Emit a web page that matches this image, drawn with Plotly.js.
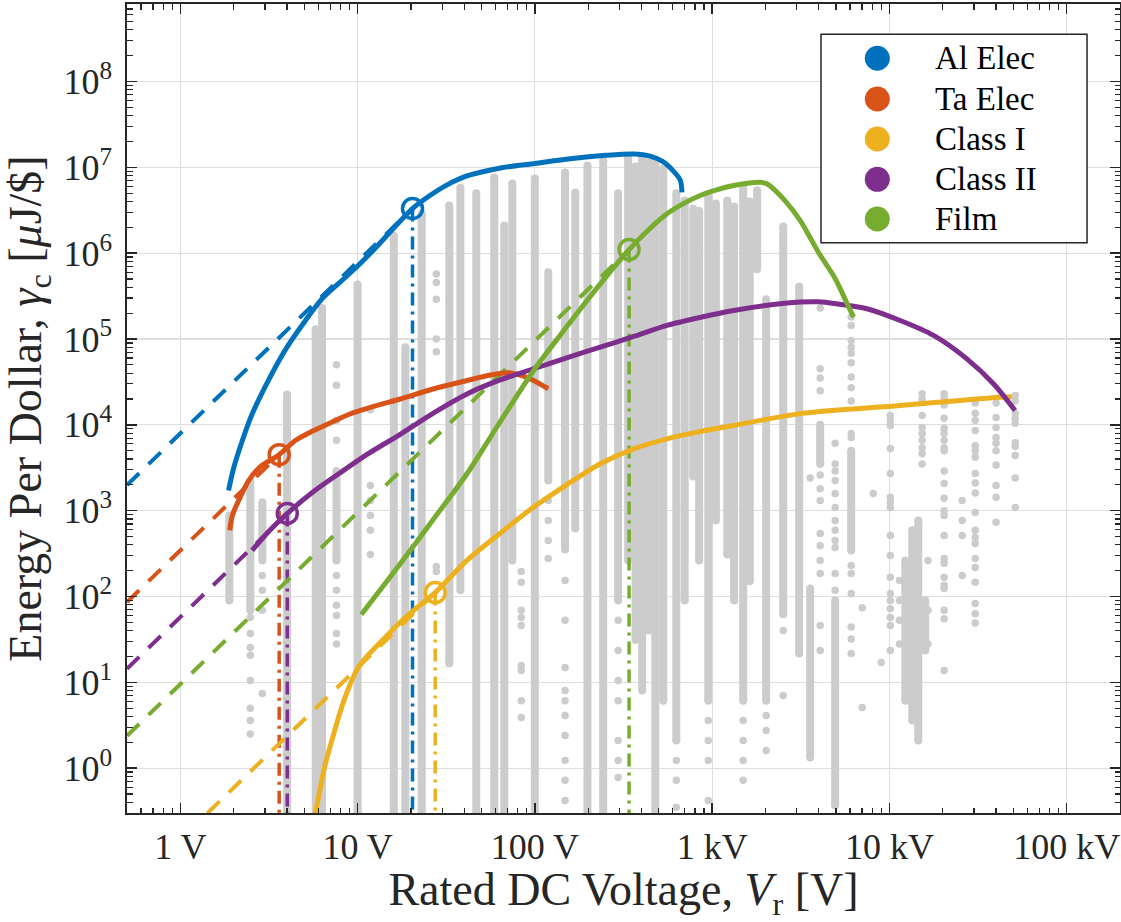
<!DOCTYPE html>
<html>
<head>
<meta charset="utf-8">
<script src="https://cdn.plot.ly/plotly-3.0.1.min.js"></script>
<style>
  html, body { margin: 0; padding: 0; background: #ffffff; }
  #chart { width: 1121px; height: 922px; }
</style>
</head>
<body>
<div id="chart"></div>
<script>
// ---- Capacitor technologies ----
const techNames  = ['Al Elec', 'Ta Elec', 'Class I', 'Class II', 'Film'];
const techColors = ['#0072BD', '#D95319', '#EDB120', '#7E2F8E', '#77AC30'];

// ---- Upper-bound fits: rated voltage [V] vs energy per dollar [uJ/$] ----
const alV = [1.87, 2.0, 2.24, 2.51, 3.16, 3.98, 5.01, 6.31, 7.94, 10, 12.6, 15.8, 20.4, 25.1, 31.6, 41.4, 63.1, 100, 158, 251, 361, 447, 525, 603, 661, 676];
const alG = [1720, 3160, 6610, 12600, 33900, 79400, 158000, 295000, 457000, 708000, 1.15e6, 1.91e6, 3.31e6, 4.57e6, 6.17e6, 7.94e6, 9.77e6, 1.11e7, 1.26e7, 1.38e7, 1.43e7, 1.35e7, 1.17e7, 9.1e6, 7.1e6, 5.1e6];

const taV = [1.90, 1.97, 2.18, 2.43, 2.82, 3.61, 4.47, 5.62, 7.33, 8.91, 12.6, 17.4, 26.9, 41.4, 56.2, 70.8, 85.1, 97.7, 119];
const taG = [589, 891, 1450, 2240, 3240, 4490, 6610, 8510, 11000, 13200, 16600, 20000, 26300, 32800, 38000, 40300, 37200, 33100, 26300];

const c1V = [5.62, 5.77, 6.17, 6.58, 7.33, 8.13, 9.10, 10.0, 11.3, 13.8, 17.4, 21.9, 27.4, 41.4, 63.1, 98.4, 151, 234, 361, 556, 851, 1321, 3141, 11510, 42170, 49090];
const c1G = [0.25, 0.30, 0.60, 1.12, 2.51, 5.13, 9.62, 14.5, 20.0, 30.9, 50.1, 75.9, 111, 263, 537, 1100, 2000, 3520, 5250, 6870, 8320, 9820, 13500, 16800, 21000, 21200];

const c2V = [2.54, 3.16, 4.01, 5.62, 7.94, 11.2, 17.4, 26.9, 41.4, 63.1, 98.4, 151, 234, 361, 556, 851, 1321, 1995, 3141, 3981, 5012, 7464, 11510, 17750, 27350, 38640, 51170];
const c2G = [344, 575, 927, 1660, 2750, 4470, 7760, 13800, 22900, 33100, 45000, 60300, 80400, 107000, 144000, 178000, 215000, 245000, 269000, 271000, 257000, 225000, 164000, 110000, 58700, 30100, 14700];

const filmV = [10.5, 17.4, 26.9, 41.4, 63.1, 98.4, 141, 197, 263, 340, 437, 556, 692, 857, 1072, 1321, 1585, 1866, 2037, 2582, 3141, 3981, 4943, 5754, 6281];
const filmG = [61.7, 240, 804, 2690, 10500, 43000, 115000, 281000, 589000, 1.10e6, 1.86e6, 2.87e6, 3.80e6, 4.70e6, 5.50e6, 6.14e6, 6.53e6, 6.71e6, 6.43e6, 4.07e6, 2.40e6, 1.02e6, 508000, 263000, 180000];

const fitV = [alV, taV, c1V, c2V, filmV];
const fitG = [alG, taG, c1G, c2G, filmG];

// ---- Knee points and square-law (E ~ V^2) extrapolations below them ----
const kneeV = [20.4, 3.61, 27.4, 4.01, 340];
const kneeG = [3.31e6, 4490, 111, 927, 1.10e6];
const extStartV = [0.5, 0.5, 1.42, 0.5, 0.5];
const extStartG = [1988, 86.1, 0.298, 14.4, 2.38];
const gammaFloor = 0.3;

// ---- Part database: dense vertical runs at a rated voltage ----
const denseV  = [1.89, 2.48, 2.9, 4.0, 5.8, 6.3, 7.6, 10, 16, 18.6, 23, 32.9, 38, 46.7, 59, 67.2, 74.6, 100, 119, 148, 169, 198, 243, 295, 336, 370, 403, 438, 478, 530, 628, 700, 782, 845, 951, 1050, 1217, 1330, 1497, 1630, 1795, 2018, 2518, 3097, 3573, 4070, 4945, 6090, 12300, 13460, 14550, 15930];
const denseHi = [880, 2200, 1250, 22500, 1.3e5, 2.3e5, 2900, 4.3e5, 1.6e6, 8.0e4, 2.9e6, 3.6e6, 5.8e6, 5.0e6, 7.6e6, 2.1e6, 6.5e6, 7.4e6, 6.0e5, 8.7e6, 5.1e6, 1.05e7, 1.2e7, 5.0e6, 1.3e7, 1.02e7, 1.3e7, 1.15e7, 1.2e7, 9.7e6, 5.0e6, 4.1e6, 3.3e6, 3.1e6, 4.5e6, 3.8e6, 4.1e6, 3.5e6, 5.8e6, 4.0e6, 5.4e6, 2.9e5, 2.05e6, 4.1e5, 124, 1.0e4, 90, 5000, 263, 590, 770, 90];
const denseLo = [90, 69, 263, 0.3, 0.3, 0.3, 263, 0.3, 0.3, 0.3, 0.3, 16.6, 118, 0.3, 0.3, 0.3, 263, 0.3, 2250, 353, 620, 0.3, 0.3, 90, 263, 31, 8.0, 40, 0.3, 6.1, 2.1, 90, 2500, 263, 6.1, 770, 309, 90, 6.1, 150, 6.5e5, 6.1, 62, 21.7, 1.33, 3500, 0.37, 343, 6.1, 3.6, 2.1, 23.5];

// ---- Part database: individual parts away from the dense runs ----
const sparseV = [2.48, 2.9, 7.6, 11.8, 27.8, 83.8, 119, 148, 295, 628, 951, 1497, 2018, 2518, 3573, 4070, 4945, 6090, 7030, 8110, 9000, 10120, 11400, 15300, 16500, 20370, 25740, 30500, 40000, 51260];
const sparseG = [
  [57, 37, 25.5, 20.6, 10.5, 5.0, 3.6, 2.5],
  [176, 118, 69, 7.4],
  [5.0e4, 2.9e4, 1.12e4, 6600, 176, 118, 79, 60, 37, 28],
  [1.5e4, 1960, 1310, 880, 590, 309],
  [5.7e5, 4.55e5, 2.9e5, 1.0e5, 7.1e4, 224, 196],
  [196, 146, 69, 57, 46, 15.7, 13.7, 6.1, 3.9],
  [1310, 770, 450, 277],
  [154, 53, 14.9, 8.0, 6.1, 4.1, 2.4, 1.23, 0.72, 0.42],
  [53, 23.5, 10.5, 6.1, 2.1, 1.23, 0.78],
  [1.23, 0.72, 0.35],
  [3.6, 2.1, 1.23, 0.42],
  [3.6, 2.1, 1.23, 0.72],
  [4.1, 2.75, 1.6],
  [40, 7.0],
  [2400],
  [2.3e5, 4.5e4, 3.5e4, 2.5e4, 2600, 1800, 1310, 540, 390, 263, 185, 46, 23.5],
  [6100, 3500, 2900, 2250, 1580, 1090, 770, 590, 450, 373, 185, 118],
  [1.8e5, 1.44e5, 9.6e4, 8.0e4, 6.8e4, 5.3e4, 3.6e4, 2.7e4, 1.9e4, 7900, 7100, 230, 185, 108, 44, 32, 21.7],
  [74, 5.1],
  [1580],
  [17],
  [1.28e4, 1.12e4, 9800, 5300, 2700, 1430, 1250, 1090, 515, 300, 167, 108, 90, 72, 57, 46, 23.5],
  [90, 53, 154, 28],
  [2.3e4, 2.0e4, 1.28e4, 9300, 7900, 6600, 5400, 4600, 3500],
  [263, 69, 28],
  [2.3e4, 2.1e4, 1.7e4, 1.19e4, 9100, 7900, 6600, 5400, 5000, 2900, 2070, 1390, 1000, 880, 515, 277, 243, 167, 135, 124, 69, 55, 13.7],
  [1310, 770, 515, 176],
  [1.8e4, 1.36e4, 1.12e4, 8600, 5700, 5000, 4200, 2700, 2100, 1600, 950, 590, 490, 415, 277, 218, 146, 83, 63, 49],
  [1.8e4, 1.22e4, 9300, 7100, 6100, 5000, 3400, 1960, 1430, 730],
  [2.2e4, 1.9e4, 1.36e4, 1.19e4, 1.04e4, 6200, 5600, 4400, 2400, 1090]
];

// ---- Axis ticks ----
const xTickVals = [1, 10, 100, 1e3, 1e4, 1e5];
const xTickText = ['1 V', '10 V', '100 V', '1 kV', '10 kV', '100 kV'];
const yTickVals = [1, 10, 100, 1e3, 1e4, 1e5, 1e6, 1e7, 1e8];
const yTickText = yTickVals.map((v, i) => '10<sup>' + i + '</sup>');

const GRAY = '#cccccc';
const INK = '#262626';
const FONT = 'Liberation Serif, Times New Roman, serif';

const traces = [];

// Dense runs as thick vertical segments with rounded ends
const segX = [], segY = [];
denseV.forEach((v, i) => { segX.push(v, v, null); segY.push(denseLo[i], denseHi[i], null); });
traces.push({
  type: 'scatter', mode: 'lines+markers', x: segX, y: segY,
  line: { color: GRAY, width: 8 }, marker: { color: GRAY, size: 8 },
  connectgaps: false, hoverinfo: 'skip', showlegend: false
});

// Individual parts
const dotX = [], dotY = [];
sparseV.forEach((v, i) => sparseG[i].forEach(g => { dotX.push(v); dotY.push(g); }));
traces.push({
  type: 'scatter', mode: 'markers', x: dotX, y: dotY,
  marker: { color: GRAY, size: 7.5 }, hoverinfo: 'skip', showlegend: false
});

// Extrapolations and knee markers
techNames.forEach((name, i) => {
  traces.push({
    type: 'scatter', mode: 'lines',
    x: [extStartV[i], kneeV[i]], y: [extStartG[i], kneeG[i]],
    line: { color: techColors[i], width: 4, dash: '17px,13px' },
    hoverinfo: 'skip', showlegend: false
  });
  traces.push({
    type: 'scatter', mode: 'lines',
    x: [kneeV[i], kneeV[i]], y: [kneeG[i], gammaFloor],
    line: { color: techColors[i], width: 3.5, dash: '13px,6px,3px,6px' },
    hoverinfo: 'skip', showlegend: false
  });
});

// Fitted curves
techNames.forEach((name, i) => {
  traces.push({
    type: 'scatter', mode: 'lines', name: name,
    x: fitV[i], y: fitG[i],
    line: { color: techColors[i], width: 5, shape: 'spline', smoothing: 0.8 },
    showlegend: false
  });
});

// Knee circles
techNames.forEach((name, i) => {
  traces.push({
    type: 'scatter', mode: 'markers', x: [kneeV[i]], y: [kneeG[i]],
    marker: { symbol: 'circle-open', size: 20, color: techColors[i], line: { width: 3.5, color: techColors[i] } },
    hoverinfo: 'skip', showlegend: false
  });
});

// Legend drawn as a boxed key in paper coordinates
const keyX = 0.7556, keyTextX = 0.8114;
const keyY = [0.9329, 0.8826, 0.8331, 0.7833, 0.7342];
const shapes = [{
  type: 'rect', xref: 'paper', yref: 'paper', x0: 0.6989, x1: 0.9668, y0: 0.7049, y1: 0.9625,
  line: { color: INK, width: 1.5 }, fillcolor: '#ffffff', layer: 'above'
}];
const annotations = [];
techNames.forEach((name, i) => {
  shapes.push({
    type: 'circle', xref: 'paper', yref: 'paper', xsizemode: 'pixel', ysizemode: 'pixel',
    xanchor: keyX, yanchor: keyY[i], x0: -12.5, x1: 12.5, y0: -12.5, y1: 12.5,
    fillcolor: techColors[i], line: { width: 0 }, layer: 'above'
  });
  annotations.push({
    xref: 'paper', yref: 'paper', x: keyTextX, y: keyY[i], xanchor: 'left', yanchor: 'middle',
    text: name, showarrow: false, font: { family: FONT, size: 33, color: '#000000' }
  });
});

const axisBase = {
  type: 'log', showline: true, linecolor: INK, linewidth: 1.8, mirror: 'allticks',
  ticks: 'inside', ticklen: 10, tickwidth: 1.5, tickcolor: INK,
  showgrid: true, gridcolor: '#dedede', gridwidth: 1.2, zeroline: false,
  minor: { ticks: 'inside', ticklen: 5.5, tickwidth: 1.2, tickcolor: INK, dtick: 'D1', showgrid: false },
  tickfont: { family: FONT, size: 36, color: INK },
  automargin: false, fixedrange: true
};

const layout = {
  width: 1121, height: 922,
  margin: { l: 127, r: 1, t: 4, b: 109 },
  paper_bgcolor: '#ffffff', plot_bgcolor: '#ffffff',
  showlegend: false,
  xaxis: Object.assign({}, axisBase, {
    range: [Math.log10(0.5), Math.log10(2e5)],
    tickmode: 'array', tickvals: xTickVals, ticktext: xTickText,
    ticklabelstandoff: 1,
    title: { text: 'Rated DC Voltage, <i>V</i><sub>r</sub> [V]', font: { family: FONT, size: 46, color: INK }, standoff: 14 }
  }),
  yaxis: Object.assign({}, axisBase, {
    range: [Math.log10(0.3), Math.log10(8e8)],
    tickmode: 'array', tickvals: yTickVals, ticktext: yTickText,
    ticklabelstandoff: 6,
    title: { text: 'Energy Per Dollar, <i>γ</i><sub>c</sub> [<i>μ</i>J/$]', font: { family: FONT, size: 46, color: INK }, standoff: 12 }
  }),
  shapes: shapes,
  annotations: annotations
};

Plotly.newPlot('chart', traces, layout, { displayModeBar: false, staticPlot: true });
</script>
</body>
</html>
